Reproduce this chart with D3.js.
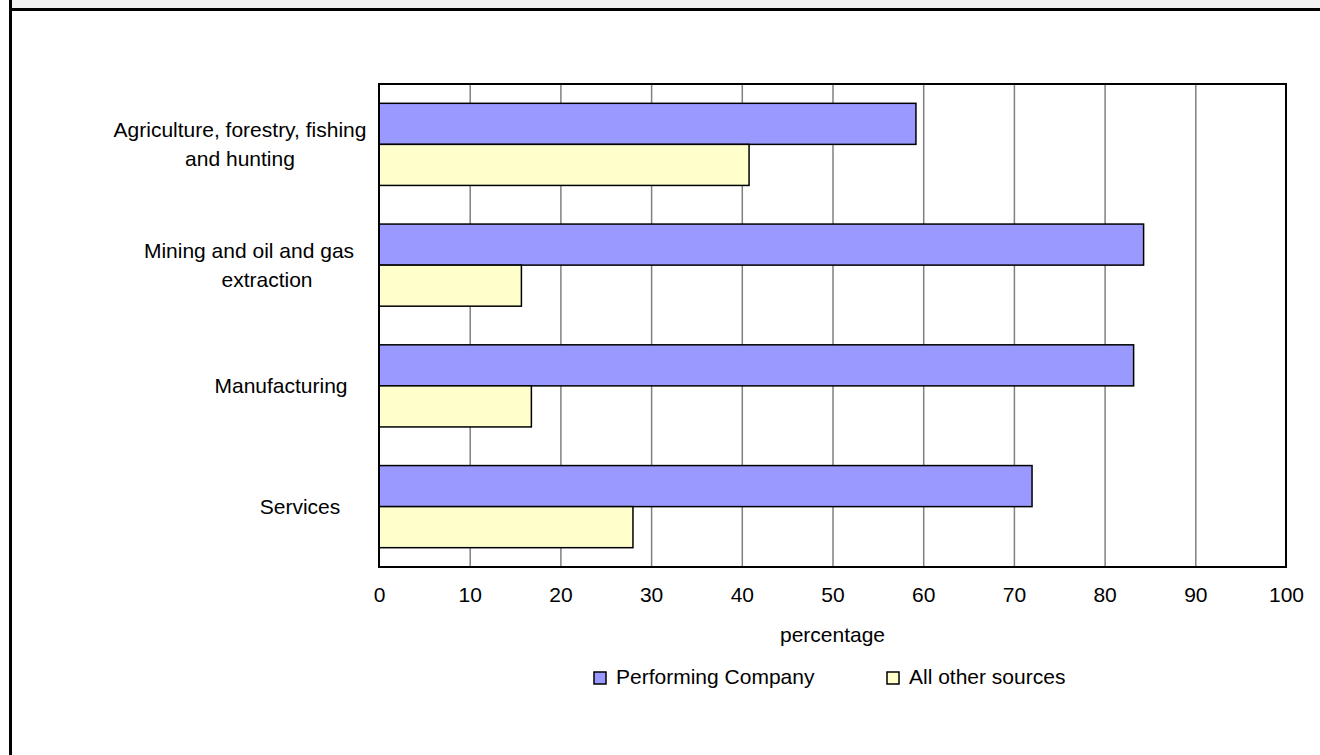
<!DOCTYPE html>
<html>
<head>
<meta charset="utf-8">
<script src="https://cdn.jsdelivr.net/npm/d3@7"></script>
<style>
  body { margin: 0; background: #fff; }
  svg { display: block; font-family: "Liberation Sans", Arial, sans-serif; }
</style>
</head>
<body>
<div id="chart"></div>
<script>
// industries, each label split into its lines
const categories = ["Agriculture, forestry, fishing and hunting", "Mining and oil and gas extraction", "Manufacturing", "Services"];
const categoryLines = [["Agriculture, forestry, fishing", "and hunting"], ["Mining and oil and gas", "extraction"], ["Manufacturing"], ["Services"]];
const seriesNames = ["Performing Company", "All other sources"];
const performingCompany = [59.2, 84.3, 83.2, 72.0];
const allOtherSources = [40.8, 15.7, 16.8, 28.0];
const xTicks = [0, 10, 20, 30, 40, 50, 60, 70, 80, 90, 100];

const width = 1320, height = 755;
const plot = { left: 379, right: 1286, top: 84, bottom: 567 };
const colors = ["#9999ff", "#ffffcc"];
const fontSize = 21;
// centre x of each label line (Excel lays these out a bit unevenly)
const lineCenters = [[240, 240], [249, 267], [281], [300]];

const svg = d3.select("#chart").append("svg")
  .attr("width", width)
  .attr("height", height);

// outer frame, cut off on the right and bottom
svg.append("rect").attr("x", 12).attr("y", 0).attr("width", width - 12).attr("height", 8).attr("fill", "#f2f2f2");
svg.append("rect").attr("x", 9).attr("y", 8).attr("width", width - 9).attr("height", 3).attr("fill", "#000");
svg.append("rect").attr("x", 9).attr("y", 0).attr("width", 3).attr("height", height).attr("fill", "#000");

const x = d3.scaleLinear().domain([0, 100]).range([plot.left, plot.right]);
const y = d3.scaleBand().domain(categories).range([plot.top, plot.bottom])
  .paddingInner(0.32).paddingOuter(0.16);
const ySeries = d3.scaleBand().domain(seriesNames).range([0, y.bandwidth()]);

// gridlines
svg.append("g")
  .attr("transform", "translate(0," + plot.bottom + ")")
  .call(d3.axisBottom(x).tickValues(xTicks.slice(1, -1)).tickSize(-(plot.bottom - plot.top)).tickFormat(""))
  .call(g => g.select(".domain").remove())
  .call(g => g.selectAll("line").attr("stroke", "#808080").attr("stroke-width", 1.5));

// bars
const rows = categories.map((c, i) => ({ cat: c, vals: [performingCompany[i], allOtherSources[i]] }));
const groups = svg.append("g").selectAll("g")
  .data(rows)
  .join("g")
  .attr("transform", d => "translate(0," + y(d.cat) + ")");

groups.selectAll("rect")
  .data(d => d.vals.map((v, j) => ({ v: v, s: seriesNames[j], j: j })))
  .join("rect")
  .attr("x", x(0))
  .attr("y", d => ySeries(d.s))
  .attr("width", d => x(d.v) - x(0))
  .attr("height", ySeries.bandwidth())
  .attr("fill", d => colors[d.j])
  .attr("stroke", "#000")
  .attr("stroke-width", 1.5);

// plot border
svg.append("rect")
  .attr("x", plot.left).attr("y", plot.top)
  .attr("width", plot.right - plot.left).attr("height", plot.bottom - plot.top)
  .attr("fill", "none").attr("stroke", "#000").attr("stroke-width", 2);

// x axis labels
svg.append("g")
  .attr("transform", "translate(0," + plot.bottom + ")")
  .call(d3.axisBottom(x).tickValues(xTicks).tickSize(0).tickPadding(20))
  .call(g => g.select(".domain").remove())
  .call(g => g.selectAll("text").attr("font-size", fontSize).attr("fill", "#000")
    .attr("font-family", "'Liberation Sans', Arial, sans-serif"));

svg.append("text")
  .attr("x", (plot.left + plot.right) / 2).attr("y", 635)
  .attr("dy", "0.35em")
  .attr("text-anchor", "middle").attr("font-size", fontSize)
  .text("percentage");

// category labels
categories.forEach((c, i) => {
  const lines = categoryLines[i];
  const cy = y(c) + y.bandwidth() / 2;
  lines.forEach((t, k) => {
    svg.append("text")
      .attr("x", lineCenters[i][k])
      .attr("y", cy + (k - (lines.length - 1) / 2) * 29)
      .attr("dy", "0.35em")
      .attr("text-anchor", "middle")
      .attr("font-size", fontSize)
      .text(t);
  });
});

// legend
const legendX = [594, 887];
const legend = svg.append("g").selectAll("g")
  .data(seriesNames)
  .join("g")
  .attr("transform", (d, i) => "translate(" + legendX[i] + ",672)");
legend.append("rect")
  .attr("width", 12).attr("height", 12)
  .attr("fill", (d, i) => colors[i])
  .attr("stroke", "#000").attr("stroke-width", 1.5);
legend.append("text")
  .attr("x", 22).attr("y", 5).attr("dy", "0.35em")
  .attr("font-size", fontSize)
  .text(d => d);
</script>
</body>
</html>
